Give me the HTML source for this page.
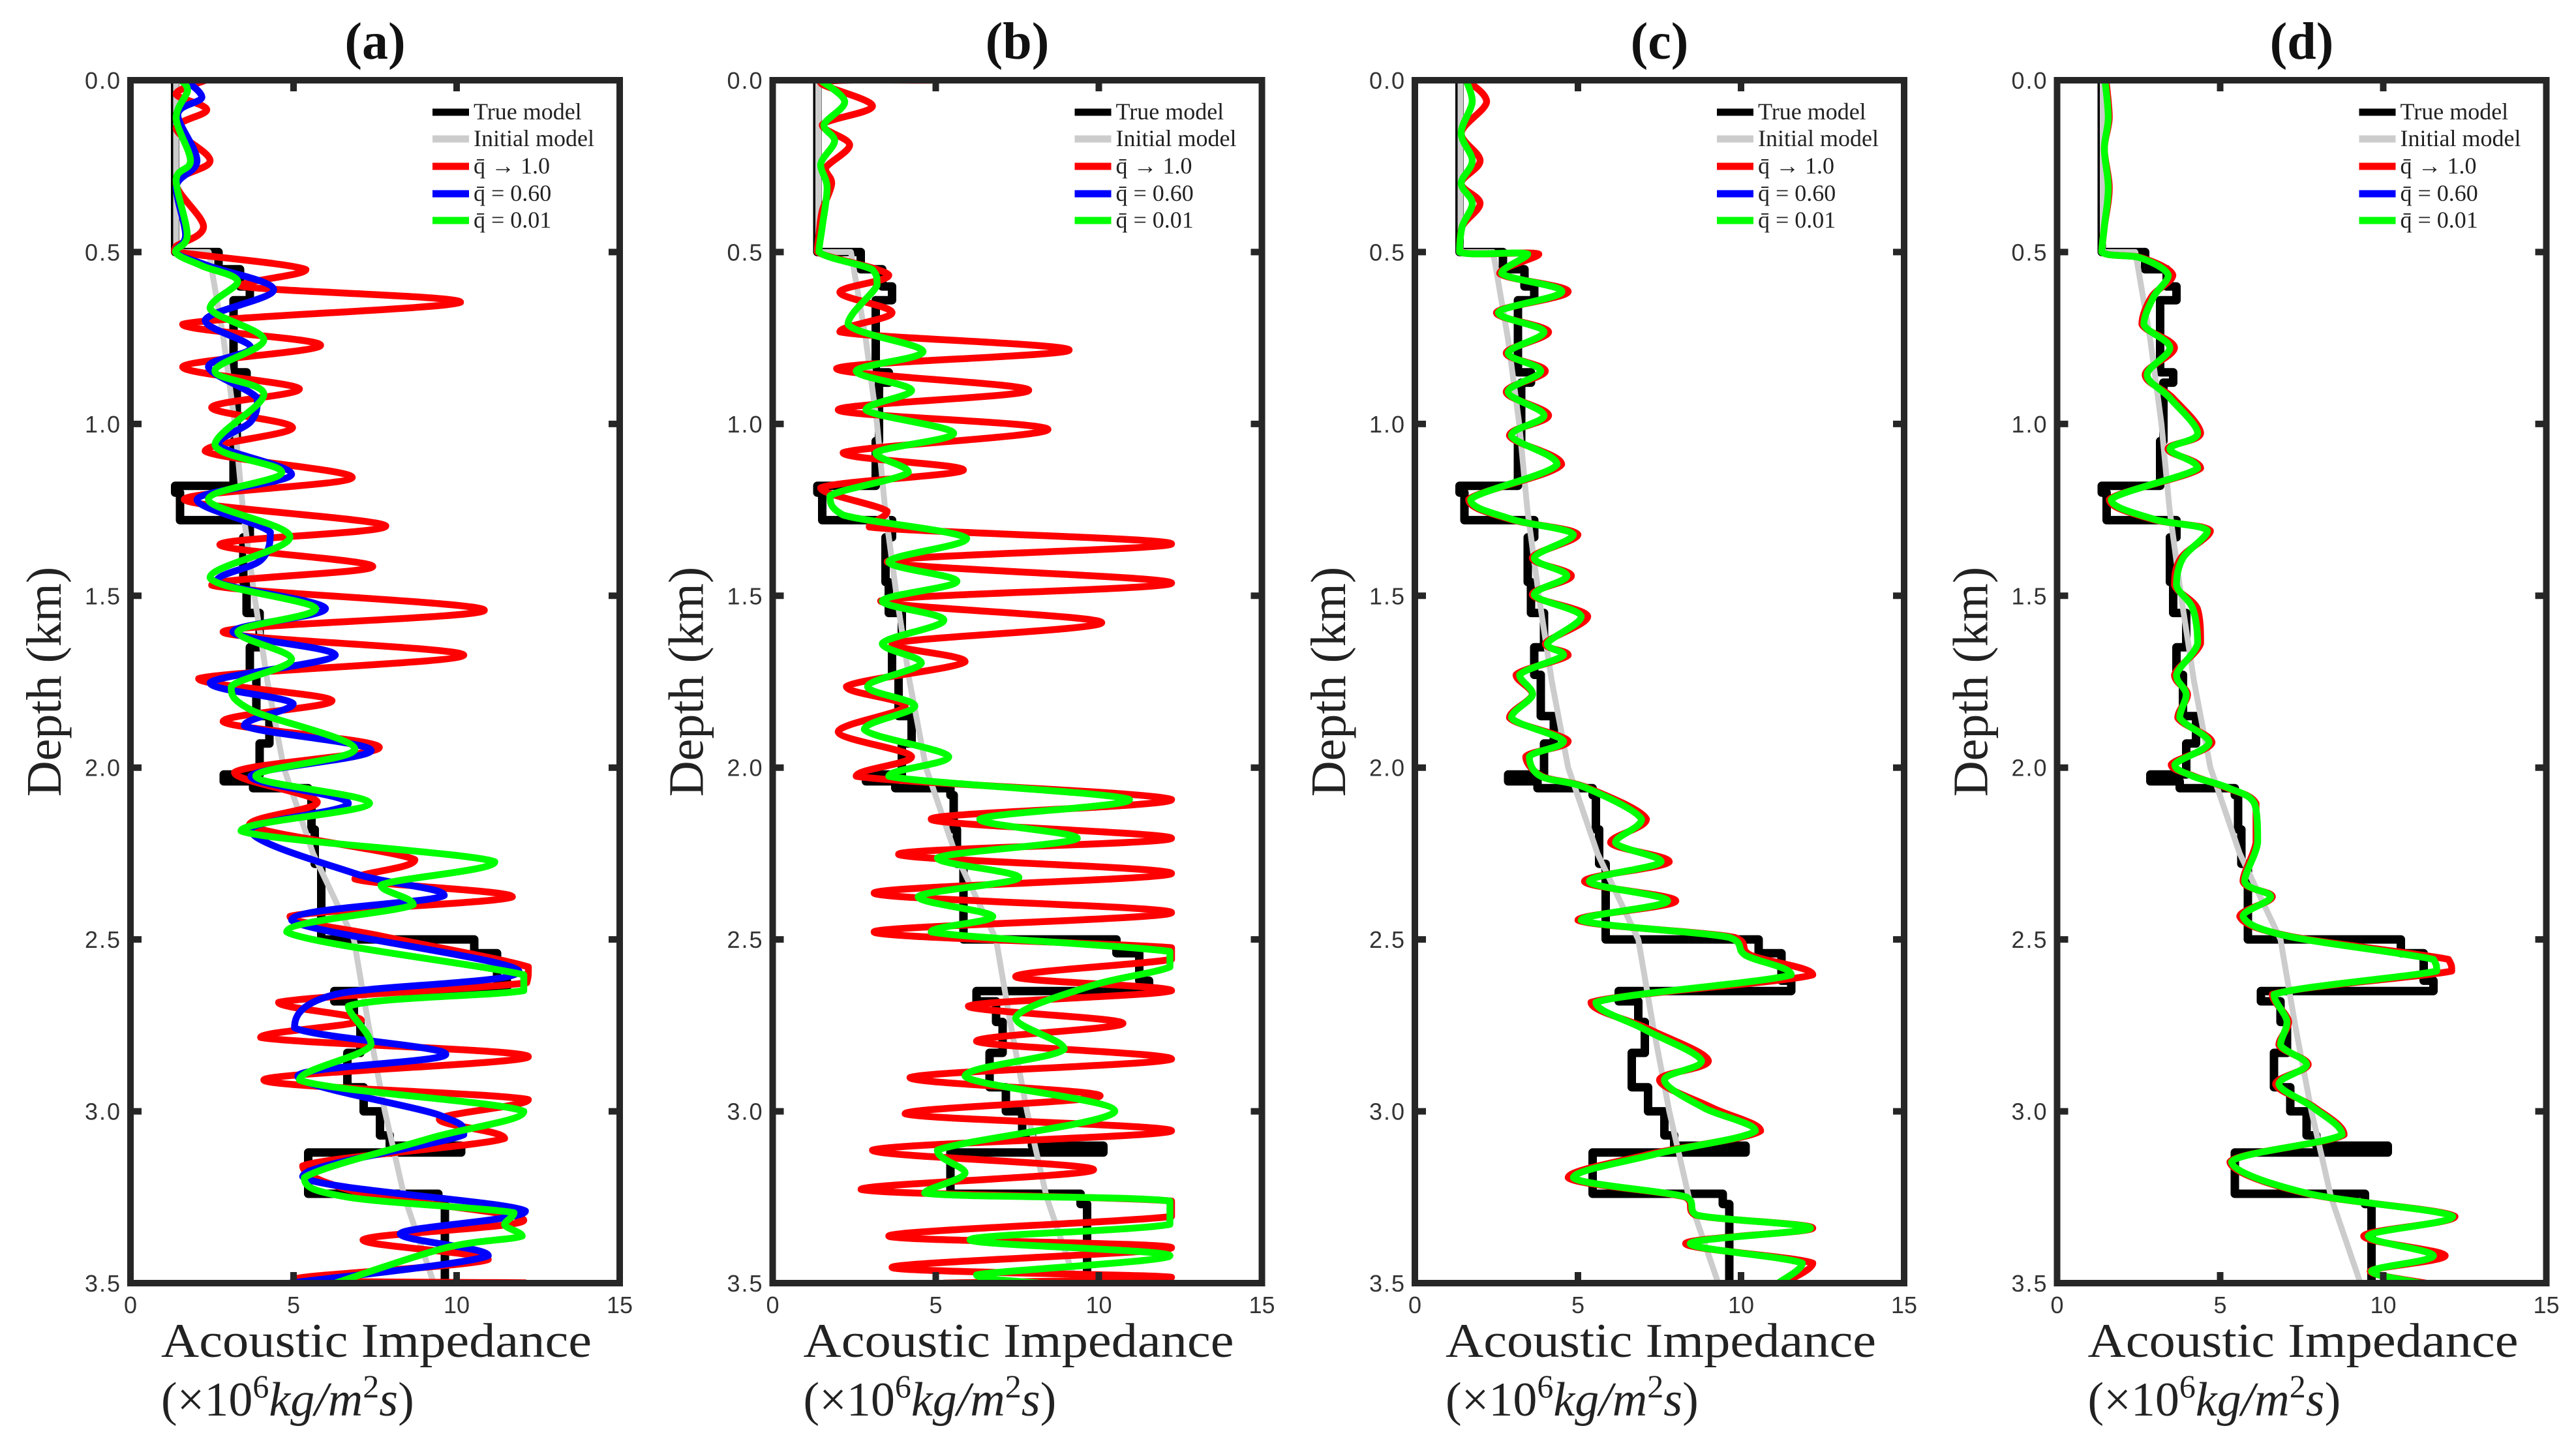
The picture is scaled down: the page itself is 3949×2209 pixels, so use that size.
<!DOCTYPE html>
<html><head><meta charset="utf-8"><style>
html,body{margin:0;padding:0;background:#fff;}
svg{display:block;}
</style></head><body>
<svg id="fig" xmlns="http://www.w3.org/2000/svg" width="3949" height="2209" viewBox="0 0 3949 2209"></svg>
<script>
// ---- data ----
const panelLabels = ["(a)","(b)","(c)","(d)"];
const xTicks = [0,5,10,15];
const yTicks = [0.0,0.5,1.0,1.5,2.0,2.5,3.0,3.5];
const yTickLabels = ["0.0","0.5","1.0","1.5","2.0","2.5","3.0","3.5"];
const legendLabels = ["True model","Initial model","q\u0304 \u2192 1.0","q\u0304 = 0.60","q\u0304 = 0.01"];

const trueDepth = [0,0.5,0.55,0.6,0.64,0.85,0.88,1.05,1.18,1.2,1.28,1.33,1.46,1.55,1.65,1.73,1.85,1.93,2.02,2.04,2.06,2.08,2.18,2.28,2.5,2.54,2.62,2.65,2.68,2.74,2.83,2.93,3.0,3.07,3.1,3.12,3.24,3.27];
const trueVal = [1.37,2.7,3.36,3.66,3.16,3.56,3.26,3.16,1.37,1.52,3.66,3.46,3.56,3.96,3.66,3.86,4.26,3.96,2.86,3.76,5.45,5.55,5.65,5.85,10.54,11.24,11.54,6.25,6.85,7.05,6.65,7.15,7.65,7.95,10.14,5.45,9.44,9.64];
const initDepth = [0,0.5,0.5,0.75,1.0,1.25,1.5,1.75,2.0,2.25,2.5,2.75,3.0,3.25,3.5];
const initVal = [1.4,1.4,2.4,2.85,3.2,3.45,3.8,4.2,4.7,5.6,6.85,7.3,7.8,8.4,9.3];

// panel (a)
const redDepthA = [0,0.04,0.086,0.14,0.234,0.3,0.426,0.483,0.499,0.551,0.599,0.646,0.71,0.771,0.834,0.898,0.952,1.011,1.079,1.156,1.22,1.297,1.351,1.415,1.469,1.542,1.605,1.673,1.741,1.805,1.866,1.941,2.014,2.1,2.168,2.268,2.324,2.376,2.433,2.49,2.58,2.626,2.683,2.735,2.785,2.841,2.909,2.966,3.023,3.079,3.159,3.24,3.317,3.374,3.431,3.488,3.499];
const redValA = [2.3,1.4,2.34,1.4,2.44,1.4,2.24,1.4,1.35,5.38,3.39,10.12,1.6,5.83,1.6,5.18,2.49,4.97,2.29,6.8,1.65,7.83,2.74,7.43,2.49,10.85,2.84,10.22,2.09,6.18,2.84,7.63,3.19,5.73,3.64,8.72,6.88,11.71,4.89,7.68,12.2,12.15,4.54,7.08,3.99,12.2,4.09,12.2,9.47,11.47,5.28,7.18,12.06,7.13,10.97,5.08,12.1];
const blueDepthA = [0,0.05,0.1,0.234,0.31,0.45,0.5,0.54,0.61,0.698,0.778,0.834,0.925,0.993,1.061,1.147,1.22,1.315,1.397,1.458,1.537,1.605,1.673,1.753,1.814,1.878,1.95,2.025,2.104,2.184,2.308,2.372,2.444,2.592,2.66,2.757,2.834,2.898,3.011,3.068,3.19,3.29,3.356,3.42,3.5];
const blueValA = [1.7,2.19,1.45,2.04,1.4,1.69,1.38,2.39,4.39,2.29,3.69,2.39,3.89,3.69,2.69,4.94,2.04,4.29,3.99,2.64,5.98,3.14,6.28,2.44,4.99,3.49,7.38,3.69,6.68,3.69,6.88,9.62,4.94,11.91,6.28,5.03,9.67,5.13,9.47,10.22,5.28,12.11,8.27,10.97,4.89];
const greenDepthA = [0,0.03,0.11,0.234,0.29,0.45,0.5,0.54,0.585,0.664,0.755,0.846,0.914,1.061,1.141,1.22,1.329,1.447,1.537,1.605,1.685,1.764,1.832,1.946,2.025,2.104,2.184,2.274,2.342,2.399,2.478,2.603,2.649,2.694,2.807,2.909,3.0,3.079,3.193,3.25,3.295,3.33,3.363,3.397,3.5];
const greenValA = [1.55,1.75,1.4,1.84,1.4,1.74,1.38,2.19,3.29,2.44,4.09,2.59,4.09,2.59,4.64,2.39,4.89,2.44,5.68,3.29,4.94,3.09,3.69,6.88,3.84,7.33,3.39,11.17,7.68,8.67,4.79,12.06,12.06,6.68,7.38,5.18,12.06,9.17,5.33,6.68,11.76,11.47,12.01,9.67,6.28];

// panel (b)
const redDepthB = [0,0.007,0.075,0.13,0.188,0.256,0.3,0.38,0.449,0.5,0.567,0.617,0.676,0.732,0.785,0.839,0.902,0.959,1.016,1.084,1.134,1.186,1.254,1.3,1.349,1.401,1.463,1.515,1.578,1.639,1.692,1.764,1.821,1.896,1.968,2.025,2.093,2.15,2.206,2.252,2.308,2.365,2.422,2.478,2.524,2.558,2.608,2.649,2.694,2.744,2.796,2.848,2.902,2.955,3.007,3.057,3.113,3.17,3.227,3.261,3.306,3.363,3.397,3.454,3.483,3.5];
const redValB = [4.86,1.47,3.06,1.52,2.36,1.62,1.81,1.52,1.42,1.37,3.56,2.06,3.66,2.06,9.09,1.96,7.85,2.01,8.44,2.16,5.85,1.47,3.51,2.96,12.23,3.51,12.23,3.31,10.09,3.66,5.9,2.26,4.06,2.01,4.26,2.56,12.23,4.86,12.23,3.86,12.23,3.11,12.23,3.11,12.23,12.23,7.45,12.23,6.0,10.74,6.25,12.23,4.21,10.04,4.06,12.23,3.06,9.84,2.71,12.23,12.23,3.56,12.23,3.66,12.23,5.25];
const greenDepthB = [0,0.063,0.13,0.177,0.245,0.313,0.426,0.5,0.551,0.597,0.71,0.789,0.846,0.902,0.959,1.027,1.084,1.141,1.209,1.265,1.333,1.401,1.458,1.515,1.571,1.639,1.696,1.764,1.821,1.889,1.968,2.025,2.093,2.15,2.206,2.263,2.32,2.376,2.433,2.478,2.535,2.58,2.637,2.728,2.819,2.898,3.0,3.113,3.18,3.238,3.261,3.329,3.374,3.42,3.476,3.5];
const greenValB = [1.47,2.21,1.57,1.9,1.47,1.67,1.52,1.42,3.06,3.2,2.31,4.61,2.56,4.26,2.86,5.55,3.16,4.16,1.76,2.16,5.95,3.56,5.65,3.36,5.25,3.36,4.56,2.91,4.36,2.81,5.4,3.56,10.94,6.35,9.34,5.05,7.55,4.46,6.75,4.86,12.18,12.18,9.69,7.45,8.94,5.9,10.49,5.05,5.9,4.66,12.18,12.18,6.05,12.18,6.25,8.15];

// panel (c)
const depthC = [0,0.063,0.154,0.234,0.3,0.358,0.426,0.5,0.506,0.562,0.615,0.676,0.732,0.794,0.846,0.907,0.975,1.034,1.118,1.22,1.277,1.322,1.39,1.442,1.497,1.56,1.639,1.673,1.73,1.787,1.855,1.923,1.968,2.025,2.059,2.15,2.218,2.274,2.331,2.388,2.444,2.494,2.546,2.603,2.683,2.762,2.853,2.909,2.989,3.057,3.125,3.193,3.25,3.302,3.34,3.385,3.442,3.5];
const greenValC = [1.57,1.76,1.42,1.76,1.42,1.76,1.45,1.37,3.46,2.66,4.51,2.56,3.96,2.86,3.86,2.86,3.96,2.96,4.36,1.71,2.96,4.86,3.66,4.66,3.66,5.1,4.06,4.56,3.21,3.61,2.96,4.56,3.51,3.86,5.25,6.95,6.15,7.55,5.35,7.75,5.1,9.64,10.14,11.54,5.55,7.05,8.79,7.65,8.84,10.44,7.35,4.86,8.34,8.64,12.13,8.44,11.88,11.14];
const redValC = [1.6,2.2,1.42,2.0,1.42,2.0,1.45,1.37,3.8,2.6,4.7,2.5,4.1,2.8,4.0,2.8,4.1,2.9,4.5,1.65,2.9,5.0,3.6,4.8,3.6,5.3,4.0,4.7,3.1,3.6,2.9,4.7,3.4,3.9,5.3,7.1,6.0,7.8,5.2,8.0,5.0,9.8,10.3,12.2,5.4,7.2,9.0,7.5,9.1,10.6,7.2,4.7,8.3,8.6,12.2,8.3,12.2,11.3];

// panel (d)
const depthD = [0,0.109,0.2,0.313,0.426,0.5,0.517,0.567,0.63,0.71,0.778,0.857,0.925,1.027,1.073,1.129,1.22,1.277,1.311,1.39,1.469,1.537,1.639,1.73,1.787,1.855,1.927,1.991,2.025,2.059,2.104,2.218,2.331,2.376,2.433,2.49,2.558,2.592,2.66,2.739,2.807,2.864,2.921,2.989,3.068,3.147,3.238,3.306,3.363,3.42,3.465,3.5];
const greenValD = [1.47,1.57,1.45,1.57,1.45,1.37,2.56,3.41,2.96,2.66,3.46,2.76,3.46,4.31,3.46,4.31,1.66,2.96,4.61,3.86,3.66,4.16,4.31,3.66,3.96,3.76,4.66,3.61,4.16,5.25,6.05,6.15,5.75,6.55,5.7,7.05,11.54,11.64,6.65,7.05,6.85,7.65,6.8,7.85,8.74,5.35,7.65,12.13,9.54,11.54,9.64,11.14];
const redValD = [1.5,1.6,1.45,1.6,1.45,1.37,2.6,3.55,2.9,2.6,3.6,2.7,3.55,4.4,3.4,4.4,1.6,2.9,4.7,3.8,3.6,4.3,4.4,3.6,4.0,3.7,4.75,3.5,4.2,5.2,6.1,6.1,5.7,6.6,5.6,7.1,12.0,12.1,6.6,7.1,6.8,7.7,6.7,7.9,8.8,5.3,7.6,12.2,9.4,11.9,9.6,11.3];

// ---- drawing ----
const NS = "http://www.w3.org/2000/svg";
const svg = document.getElementById("fig");
const PL = [200, 1184.5, 2169, 3153.5];
const PW = 750, PT = 123, PB = 1967;
const XMAX = 15, DMAX = 3.5;
const INK = "#262626";

function mk(tag, attrs, parent) {
  const el = document.createElementNS(NS, tag);
  for (const k in attrs) el.setAttribute(k, attrs[k]);
  (parent || svg).appendChild(el);
  return el;
}
function sx(p, v) { return PL[p] + v / XMAX * PW; }
function sy(d) { return PT + d / DMAX * (PB - PT); }
function clampX(x, a, b) { const lo = Math.min(a, b), hi = Math.max(a, b); return Math.max(lo, Math.min(hi, x)); }

function smoothPath(p, depths, vals) {
  const pts = depths.map((d, i) => [sx(p, vals[i]), sy(d)]);
  let s = "M" + pts[0][0].toFixed(1) + "," + pts[0][1].toFixed(1);
  for (let i = 0; i < pts.length - 1; i++) {
    const p0 = pts[Math.max(0, i - 1)], p1 = pts[i], p2 = pts[i + 1], p3 = pts[Math.min(pts.length - 1, i + 2)];
    const c1 = [clampX(p1[0] + (p2[0] - p0[0]) / 6, p1[0], p2[0]), p1[1] + (p2[1] - p0[1]) / 6];
    const c2 = [clampX(p2[0] - (p3[0] - p1[0]) / 6, p1[0], p2[0]), p2[1] - (p3[1] - p1[1]) / 6];
    s += " C" + c1[0].toFixed(1) + "," + c1[1].toFixed(1) + " " + c2[0].toFixed(1) + "," + c2[1].toFixed(1) + " " + p2[0].toFixed(1) + "," + p2[1].toFixed(1);
  }
  return s;
}
function stepPath(p, depths, vals) {
  let s = "";
  for (let i = 0; i < depths.length; i++) {
    const d0 = depths[i], d1 = i + 1 < depths.length ? depths[i + 1] : DMAX;
    const x = sx(p, vals[i]);
    s += (i === 0 ? "M" : " L") + x.toFixed(1) + "," + sy(d0).toFixed(1) + " L" + x.toFixed(1) + "," + sy(d1).toFixed(1);
  }
  return s;
}
function linePath(p, depths, vals) {
  return depths.map((d, i) => (i ? "L" : "M") + sx(p, vals[i]).toFixed(1) + "," + sy(d).toFixed(1)).join(" ");
}

const defs = mk("defs", {});
const series = [
  { red: [redDepthA, redValA], blue: [blueDepthA, blueValA], green: [greenDepthA, greenValA] },
  { red: [redDepthB, redValB], blue: null, green: [greenDepthB, greenValB] },
  { red: [depthC, redValC], blue: null, green: [depthC, greenValC] },
  { red: [depthD, redValD], blue: null, green: [depthD, greenValD] }
];
const panelNames = ["a", "b", "c", "d"];

for (let p = 0; p < 4; p++) {
  const cp = mk("clipPath", { id: "clip" + p }, defs);
  mk("rect", { x: PL[p], y: PT, width: PW, height: PB - PT }, cp);

  const g = mk("g", {});
  
  

  const title = mk("text", { x: PL[p] + PW / 2, y: 90, "text-anchor": "middle", "font-family": "Liberation Serif, serif", "font-weight": "bold", "font-size": 80, fill: "#111" }, g);
  title.textContent = panelLabels[p];
  
  

  const dg = mk("g", { "clip-path": "url(#clip" + p + ")", fill: "none", "stroke-linejoin": "round", "stroke-linecap": "round" }, g);
  const tr = mk("path", { d: stepPath(p, trueDepth, trueVal), stroke: "#000", "stroke-width": 13 }, dg);
  
  
  const ini = mk("path", { d: linePath(p, initDepth, initVal), stroke: "#cccccc", "stroke-width": 9 }, dg);
  
  
  const s = series[p];
  const rl = mk("path", { d: smoothPath(p, s.red[0], s.red[1]), stroke: "#ff0000", "stroke-width": 10.5 }, dg);
  
  
  if (s.blue) {
    const bl = mk("path", { d: smoothPath(p, s.blue[0], s.blue[1]), stroke: "#0000ff", "stroke-width": 10.5 }, dg);
    
    
  }
  const gl = mk("path", { d: smoothPath(p, s.green[0], s.green[1]), stroke: "#00ff00", "stroke-width": 10.5 }, dg);
  
  

  const fr = mk("rect", { x: PL[p], y: PT, width: PW, height: PB - PT, fill: "none", stroke: INK, "stroke-width": 10 }, g);
  
  

  for (let i = 0; i < yTicks.length; i++) {
    const y = sy(yTicks[i]);
    mk("line", { x1: PL[p], x2: PL[p] + 17, y1: y, y2: y, stroke: INK, "stroke-width": 10 }, g);
    mk("line", { x1: PL[p] + PW, x2: PL[p] + PW - 17, y1: y, y2: y, stroke: INK, "stroke-width": 10 }, g);
    const t = mk("text", { x: PL[p] - 14, y: y + 13, "text-anchor": "end", "font-family": "Liberation Sans, sans-serif", "font-size": 36, fill: "#333", "letter-spacing": "2" }, g);
    t.textContent = yTickLabels[i];
    
    
  }
  for (let i = 0; i < xTicks.length; i++) {
    const x = sx(p, xTicks[i]);
    mk("line", { x1: x, x2: x, y1: PT, y2: PT + 17, stroke: INK, "stroke-width": 10 }, g);
    mk("line", { x1: x, x2: x, y1: PB, y2: PB - 17, stroke: INK, "stroke-width": 10 }, g);
    const t = mk("text", { x: x, y: 2013, "text-anchor": "middle", "font-family": "Liberation Sans, sans-serif", "font-size": 36, fill: "#333" }, g);
    t.textContent = String(xTicks[i]);
    
    
  }

  const yl = mk("text", { x: 0, y: 0, "text-anchor": "middle", "font-family": "Liberation Serif, serif", "font-size": 76, fill: "#222" }, g);
  yl.setAttribute("transform", "translate(" + (PL[p] - 107) + "," + ((PT + PB) / 2) + ") rotate(-90)");
  yl.textContent = "Depth (km)";
  
  

  const xl = mk("text", { x: PL[p] + 47, y: 2080, "font-family": "Liberation Serif, serif", "font-size": 74, fill: "#222", textLength: 660, lengthAdjust: "spacingAndGlyphs" }, g);
  xl.textContent = "Acoustic Impedance";
  
  

  const xu = mk("text", { x: PL[p] + 47, y: 2170, "font-family": "Liberation Serif, serif", "font-size": 74, fill: "#222" }, g);
  
  
  const parts = [["(\u00d710", {}], ["6", { dy: -28, "font-size": 50 }], ["kg/m", { dy: 28, "font-style": "italic" }], ["2", { dy: -28, "font-size": 50 }], ["s", { dy: 28, "font-style": "italic" }], [")", {}]];
  for (const [txt, a] of parts) { const ts = mk("tspan", a, xu); ts.textContent = txt; }

  const lg = mk("g", {}, g);
  
  
  const legColors = ["#000000", "#cccccc", "#ff0000", "#0000ff", "#00ff00"];
  const legY = [172, 213, 255, 297, 338];
  for (let i = 0; i < 5; i++) {
    const lx = PL[p] + 463;
    mk("line", { x1: lx, x2: lx + 56, y1: legY[i], y2: legY[i], stroke: legColors[i], "stroke-width": 11 }, lg);
    const t = mk("text", { x: lx + 63, y: legY[i] + 11, "font-family": "Liberation Serif, serif", "font-size": 36, fill: "#222" }, lg);
    t.textContent = legendLabels[i];
    
    
  }
}
</script>
</body></html>
